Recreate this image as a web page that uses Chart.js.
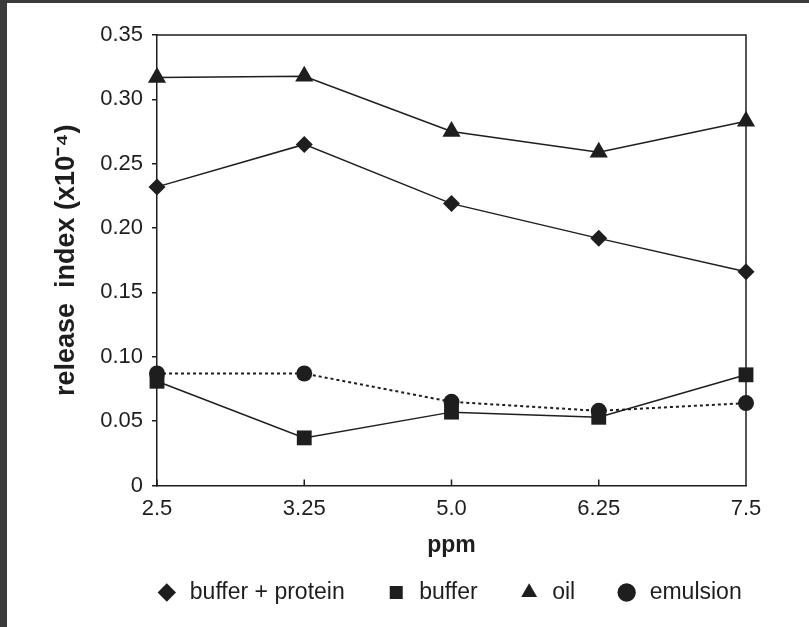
<!DOCTYPE html>
<html>
<head>
<meta charset="utf-8">
<script src="https://cdn.jsdelivr.net/npm/chart.js@4.4.1/dist/chart.umd.min.js"></script>
<style>
  html, body { margin: 0; padding: 0; overflow: hidden; background: #3b3b3b; }
  #panel { position: absolute; left: 7px; top: 3px; width: 802px; height: 624px; background: #fff; }
  #box { position: relative; width: 802px; height: 611px; }
</style>
</head>
<body>
<div id="panel"><div id="box"><canvas id="chart"></canvas></div></div>
<script>
// values (release index x10^-4 vs ppm)
const ppmLabels = ["2.5", "3.25", "5.0", "6.25", "7.5"];
const bufferProtein = [0.232, 0.265, 0.219, 0.192, 0.166];
const buffer = [0.081, 0.037, 0.057, 0.053, 0.086];
const oil = [0.317, 0.318, 0.275, 0.259, 0.283];
const emulsion = [0.087, 0.087, 0.065, 0.058, 0.064];
const yTicks = [0, 0.05, 0.10, 0.15, 0.20, 0.25, 0.30, 0.35];

const ink = "#1e1e1e";
const tickFont = { family: "'Liberation Sans', Arial, sans-serif", size: 22 };

// x ticks point inward and the plot gets a full box
const frame = {
  id: "frame",
  afterLayout(chart) {
    // centre the legend row under the plot area
    const lg = chart.legend;
    const dx = 72;
    lg.left += dx;
    lg.right += dx;
  },
  afterDatasetsDraw(chart) {
    const { ctx, chartArea: a, scales: { x } } = chart;
    ctx.save();
    ctx.strokeStyle = ink;
    ctx.lineWidth = 1.5;
    ctx.beginPath();
    ctx.moveTo(a.left, a.top);
    ctx.lineTo(a.right, a.top);
    ctx.lineTo(a.right, a.bottom);
    x.ticks.forEach((t, i) => {
      const px = x.getPixelForTick(i);
      ctx.moveTo(px, a.bottom);
      ctx.lineTo(px, a.bottom - 6);
    });
    ctx.stroke();
    ctx.restore();
  }
};

const common = {
  borderColor: ink,
  borderWidth: 1.5,
  pointBackgroundColor: ink,
  backgroundColor: ink,
  pointBorderColor: ink,
  pointBorderWidth: 0,
  tension: 0,
  clip: false
};

new Chart(document.getElementById("chart"), {
  type: "line",
  data: {
    labels: ppmLabels,
    datasets: [
      { ...common, label: "buffer + protein", data: bufferProtein, pointStyle: "rectRot", pointRadius: 8.5 },
      { ...common, label: "buffer", data: buffer, pointStyle: "rect", pointRadius: 10.5 },
      { ...common, label: "oil", data: oil, pointStyle: "triangle", pointRadius: 10.5 },
      { ...common, label: "emulsion", data: emulsion, pointStyle: "circle", pointRadius: 8, borderDash: [3, 3], borderWidth: 2 }
    ]
  },
  options: {
    responsive: true,
    maintainAspectRatio: false,
    animation: false,
    layout: { padding: { left: 0, top: 32, right: 63, bottom: 0 } },
    plugins: {
      tooltip: { enabled: false },
      legend: {
        position: "bottom",
        labels: {
          usePointStyle: true,
          boxWidth: 23,
          boxHeight: 13,
          padding: 40,
          color: ink,
          font: { family: "'Liberation Sans', Arial, sans-serif", size: 23 }
        }
      }
    },
    scales: {
      x: {
        type: "category",
        offset: false,
        afterFit: s => { s.height = 55.5; },
        grid: { drawOnChartArea: false, drawTicks: false },
        border: { display: true, color: ink, width: 1.5 },
        ticks: { color: ink, font: tickFont, padding: 10, maxRotation: 0 },
        title: {
          display: true,
          text: "ppm",
          color: ink,
          font: { family: "'Liberation Sans', Arial, sans-serif", size: 23, weight: "bold" },
          padding: { top: 0, bottom: -18 }
        }
      },
      y: {
        min: 0,
        max: 0.35,
        afterFit: s => { s.width = 150; },
        afterBuildTicks: s => { s.ticks = yTicks.map(v => ({ value: v })); },
        grid: { drawOnChartArea: false, drawTicks: true, tickLength: 5, color: ink, lineWidth: 1.5 },
        border: { display: true, color: ink, width: 1.5 },
        ticks: {
          color: ink,
          font: tickFont,
          padding: 9,
          callback: v => (v === 0 ? "0" : v.toFixed(2))
        },
        title: {
          display: true,
          text: "release  index (x10\u207B\u2074)",
          color: ink,
          font: { family: "'Liberation Sans', Arial, sans-serif", size: 27, weight: "bold" },
          padding: { top: 43 }
        }
      }
    }
  },
  plugins: [frame]
});
</script>
</body>
</html>
